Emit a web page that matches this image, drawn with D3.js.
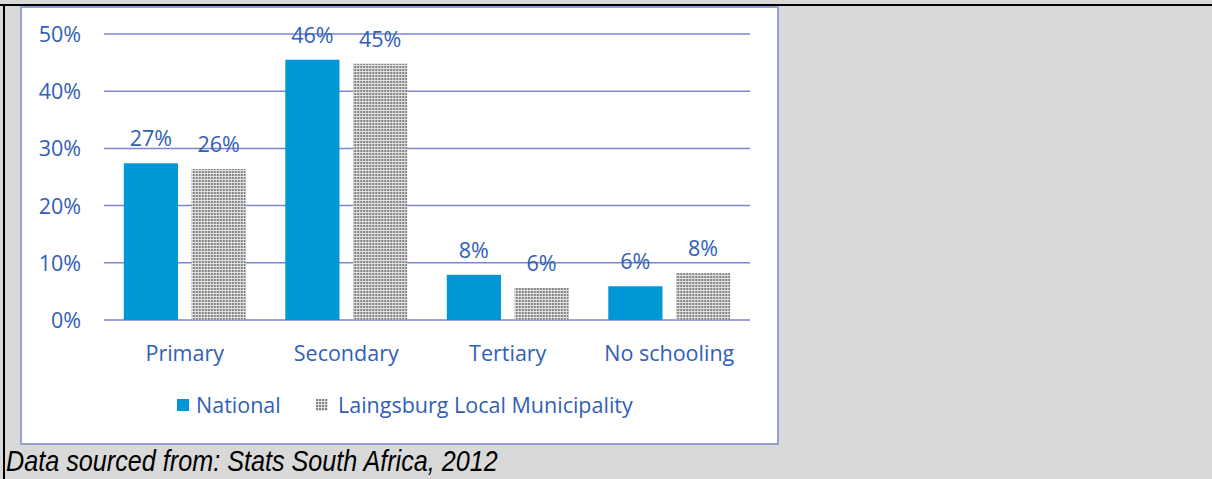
<!DOCTYPE html>
<html>
<head>
<meta charset="utf-8">
<script src="https://cdn.jsdelivr.net/npm/d3@7"></script>
<style>
  body { margin: 0; background: #d9d9d9; }
  svg { display: block; }
</style>
</head>
<body>
<svg id="chart" width="1212" height="479"></svg>
<script>
const categories = ['Primary', 'Secondary', 'Tertiary', 'No schooling']
const series = ['National', 'Laingsburg Local Municipality']
const national = [27.4, 45.5, 7.9, 5.9]
const laingsburg = [26.4, 44.8, 5.6, 8.2]
const labelsNational = ['27%', '46%', '8%', '6%']
const labelsLaingsburg = ['26%', '45%', '6%', '8%']
const yTicks = [0, 10, 20, 30, 40, 50]

const blue = '#0097d7'
const textBlue = '#3060b6'
const font = "'Open Sans', sans-serif"
const fontSize = '21.5px'

let svg = d3.select('#chart')

// pattern for the municipality bars
let defs = svg.append('defs')
let pat = defs.append('pattern')
    .attr('id', 'dots')
    .attr('width', 3)
    .attr('height', 3)
    .attr('patternUnits', 'userSpaceOnUse')
pat.append('rect').attr('width', 3).attr('height', 3).attr('fill', '#e2e2e2')
pat.append('rect').attr('width', 2).attr('height', 2).attr('fill', '#838383')

// page frame
svg.append('rect').attr('x', 0).attr('y', 0).attr('width', 1212).attr('height', 479).attr('fill', '#d9d9d9')
svg.append('line').attr('x1', 0).attr('x2', 1212).attr('y1', 5).attr('y2', 5).attr('stroke', '#000').attr('stroke-width', 2)
svg.append('line').attr('x1', 4).attr('x2', 4).attr('y1', 4).attr('y2', 479).attr('stroke', '#000').attr('stroke-width', 2)

// chart box
svg.append('rect')
    .attr('x', 21).attr('y', 7)
    .attr('width', 757).attr('height', 437)
    .attr('fill', '#fff')
    .attr('stroke', '#97a1d4')
    .attr('stroke-width', 2)

let y = d3.scaleLinear().domain([0, 50]).range([320, 34])

let x0 = d3.scaleBand()
    .domain(categories)
    .range([104, 750])
    .paddingInner(0.245)
    .paddingOuter(0.1225)

let x1 = d3.scaleBand()
    .domain(series)
    .range([0, x0.bandwidth()])
    .paddingInner(0.2)

// gridlines
svg.append('g').selectAll('line.grid')
    .data(yTicks)
    .enter()
    .append('line')
    .attr('class', 'grid')
    .attr('x1', 104)
    .attr('x2', 750)
    .attr('y1', d => y(d))
    .attr('y2', d => y(d))
    .attr('stroke', '#7e85cf')
    .attr('stroke-width', 1.5)

// y labels
svg.append('g').selectAll('text.ytick')
    .data(yTicks)
    .enter()
    .append('text')
    .attr('class', 'ytick')
    .attr('x', 81)
    .attr('y', d => y(d) + 8)
    .attr('text-anchor', 'end')
    .style('font-family', font)
    .style('font-size', fontSize)
    .style('fill', textBlue)
    .text(d => d + '%')

let rows = categories.map((c, i) => ({
    cat: c,
    vals: [
        { s: series[0], v: national[i], label: labelsNational[i] },
        { s: series[1], v: laingsburg[i], label: labelsLaingsburg[i] }
    ]
}))

let groups = svg.append('g').selectAll('g.cat')
    .data(rows)
    .enter()
    .append('g')
    .attr('class', 'cat')
    .attr('transform', d => `translate(${x0(d.cat)},0)`)

groups.selectAll('rect')
    .data(d => d.vals)
    .enter()
    .append('rect')
    .attr('x', d => x1(d.s))
    .attr('y', d => y(d.v))
    .attr('width', x1.bandwidth())
    .attr('height', d => y(0) - y(d.v))
    .attr('fill', (d, i) => i == 0 ? blue : 'url(#dots)')

groups.selectAll('text')
    .data(d => d.vals)
    .enter()
    .append('text')
    .attr('x', d => x1(d.s) + x1.bandwidth() / 2)
    .attr('y', d => y(d.v) - 17)
    .attr('text-anchor', 'middle')
    .style('font-family', font)
    .style('font-size', fontSize)
    .style('fill', textBlue)
    .text(d => d.label)

// category labels
svg.append('g').selectAll('text.xtick')
    .data(categories)
    .enter()
    .append('text')
    .attr('class', 'xtick')
    .attr('x', d => x0(d) + x0.bandwidth() / 2)
    .attr('y', 361)
    .attr('text-anchor', 'middle')
    .style('font-family', font)
    .style('font-size', fontSize)
    .style('fill', textBlue)
    .text(d => d)

// legend
let legendX = [177, 316]
let legend = svg.append('g').selectAll('g.legend')
    .data(series)
    .enter()
    .append('g')
    .attr('class', 'legend')
    .attr('transform', (d, i) => `translate(${legendX[i]},0)`)

legend.append('rect')
    .attr('x', 0)
    .attr('y', 399)
    .attr('width', 12)
    .attr('height', 12)
    .attr('fill', (d, i) => i == 0 ? blue : 'url(#dots)')

legend.append('text')
    .attr('x', (d, i) => i == 0 ? 19 : 22)
    .attr('y', 413)
    .style('font-family', font)
    .style('font-size', fontSize)
    .style('fill', textBlue)
    .text(d => d)

// source note, squeezed to look like a narrow italic face
svg.append('text')
    .attr('transform', 'translate(6,471) scale(0.84,1)')
    .style('font-family', "'Liberation Sans', Arial, sans-serif")
    .style('font-style', 'italic')
    .style('font-size', '30px')
    .style('fill', '#000')
    .text('Data sourced from: Stats South Africa, 2012')
</script>
</body>
</html>
